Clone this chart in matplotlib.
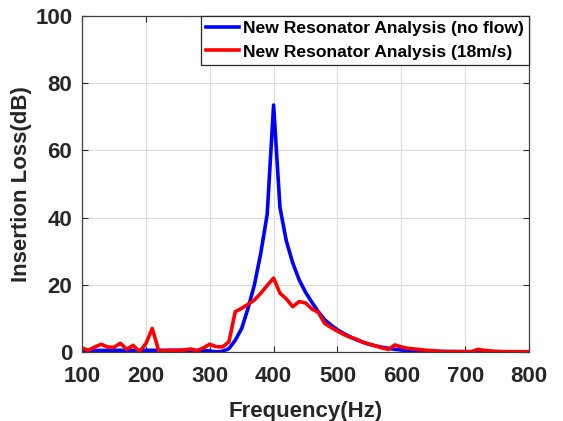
import numpy as np
import matplotlib.pyplot as plt

### Data ###
freq_noflow = [100, 150, 200, 250, 290, 300, 310, 320, 330, 340, 350, 360, 370, 380, 390, 400,
               410, 420, 430, 440, 450, 460, 470, 480, 490, 500, 510, 520, 530, 540, 550,
               560, 570, 580, 590, 600, 620, 650, 700, 750, 800]
il_noflow = [0.4, 0.5, 0.5, 0.5, 0.4, 0.3, 0.05, 0.2, 1.0, 3.5, 7.0, 13.0, 20.0, 29.5, 41.0, 73.5,
             43.0, 33.0, 26.5, 21.5, 17.8, 14.8, 12.0, 9.6, 8.0, 6.6, 5.5, 4.5, 3.6, 2.9, 2.3,
             1.8, 1.4, 1.1, 0.8, 0.6, 0.4, 0.2, 0.1, 0.05, 0.0]

freq_flow = [100, 110, 120, 130, 140, 150, 160, 170, 180, 190, 200, 210, 220, 230, 240, 250,
             260, 270, 280, 290, 300, 310, 320, 330, 340, 350, 360, 370, 380, 390, 400,
             410, 420, 430, 440, 450, 460, 470, 480, 490, 500, 510, 520, 530, 540, 550,
             560, 570, 580, 590, 600, 610, 620, 630, 640, 650, 660, 670, 680, 690, 700,
             710, 720, 730, 740, 750, 760, 770, 780, 790, 800]
il_flow = [1.2, 0.5, 1.5, 2.3, 1.5, 1.4, 2.6, 0.8, 2.0, 0.1, 2.5, 7.0, 0.4, 0.4, 0.5, 0.5,
           0.6, 0.9, 0.4, 1.2, 2.3, 1.6, 1.5, 3.0, 12.0, 13.0, 14.2, 15.5, 17.5, 19.8, 22.0,
           17.5, 15.8, 13.5, 15.0, 14.6, 12.8, 11.8, 8.5, 7.3, 6.2, 5.2, 4.4, 3.8, 2.9, 2.3,
           1.8, 1.2, 0.8, 2.1, 1.5, 1.1, 0.9, 0.7, 0.5, 0.4, 0.2, 0.1, 0.1, 0.1, 0.1,
           0.1, 0.8, 0.5, 0.3, 0.2, 0.1, 0.1, 0.1, 0.1, 0.1]

labels = ['New Resonator Analysis (no flow)', 'New Resonator Analysis (18m/s)']

### Style ###
plt.rcParams['font.family'] = ['Liberation Sans', 'DejaVu Sans']
plt.rcParams['font.weight'] = 'bold'
txt_col = '#262626'

fig = plt.figure(figsize=(5.63, 4.21), dpi=100)
ax = fig.add_axes([0.1457, 0.1639, 0.7939, 0.7981])

ax.plot(freq_noflow, il_noflow, color='#0000ff', lw=2.6, label=labels[0])
ax.plot(freq_flow, il_flow, color='#ff0000', lw=2.6, label=labels[1])

ax.set_xlim(100, 800)
ax.set_ylim(0, 100)
ax.set_xticks(np.arange(100, 801, 100))
ax.set_yticks(np.arange(0, 101, 20))
ax.grid(True, color='#dcdcdc', lw=0.8)
ax.set_axisbelow(True)

ax.tick_params(direction='in', top=True, right=True, length=4, width=0.8,
               labelsize=16, colors=txt_col)
ax.tick_params(axis='x', pad=10)
ax.tick_params(axis='y', pad=7)
for lab in ax.get_xticklabels() + ax.get_yticklabels():
    lab.set_fontweight('bold')
for sp in ax.spines.values():
    sp.set_color('#404040')
    sp.set_linewidth(0.9)

ax.set_xlabel('Frequency(Hz)', fontsize=16, fontweight='bold', color=txt_col, labelpad=10)
ax.set_ylabel('Insertion Loss(dB)', fontsize=16, fontweight='bold', color=txt_col, labelpad=2)

leg = ax.legend(loc='upper right', borderaxespad=0, fancybox=False, framealpha=1,
                edgecolor='#262626', prop={'size': 12.6, 'weight': 'bold'},
                handlelength=1.9, handletextpad=0.2, borderpad=0.3, labelspacing=0.45)
leg.get_frame().set_linewidth(0.9)

plt.savefig('out.png', dpi=100)
plt.close()
